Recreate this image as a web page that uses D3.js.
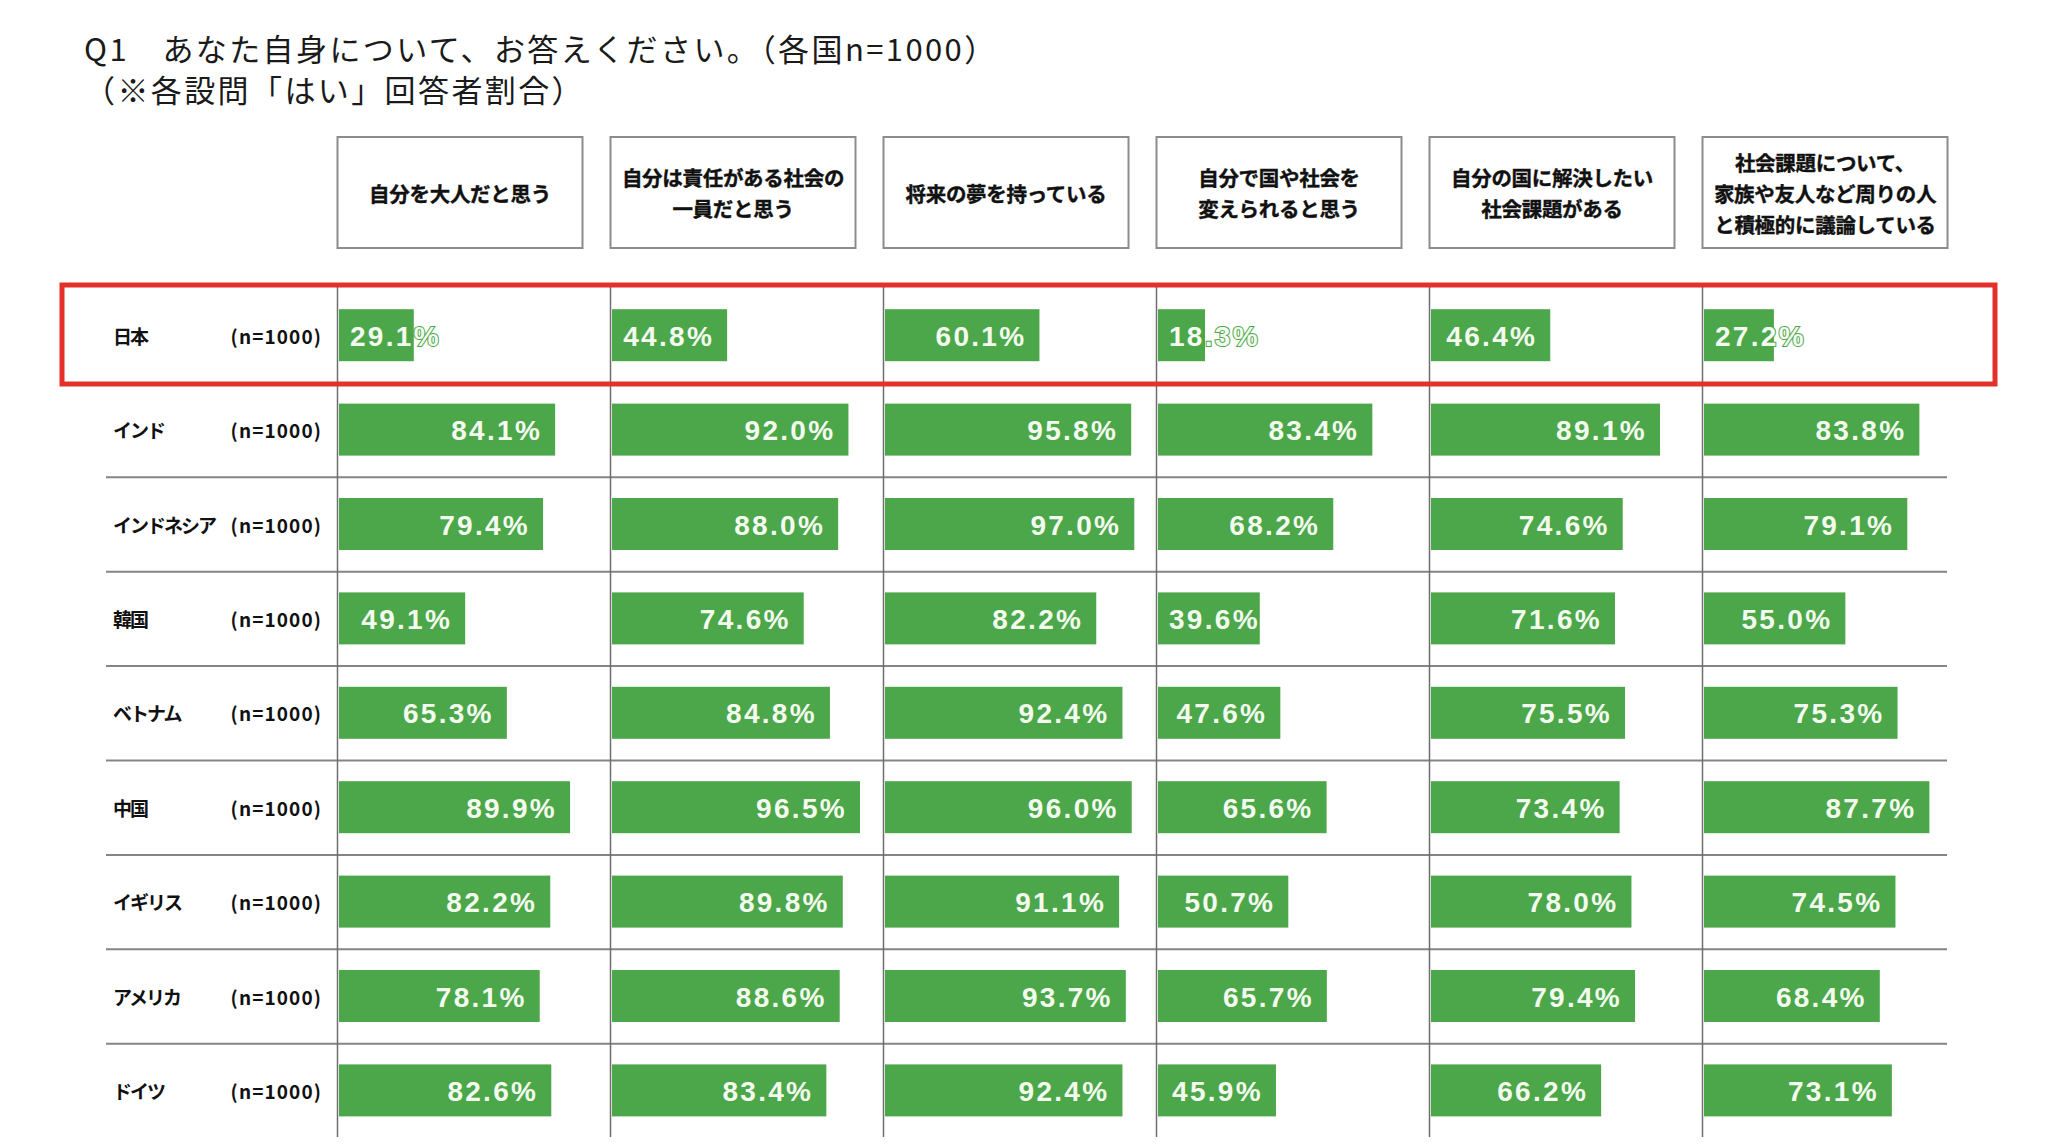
<!DOCTYPE html>
<html>
<head>
<meta charset="utf-8">
<script src="https://cdn.jsdelivr.net/npm/d3@7"></script>
<style>
  body { margin: 0; background: #fff; }
  svg { display: block; }
  .jp { font-family: "Noto Sans CJK JP", sans-serif; }
</style>
</head>
<body>
<script>
var countries = ['日本', 'インド', 'インドネシア', '韓国', 'ベトナム', '中国', 'イギリス', 'アメリカ', 'ドイツ'];
var sampleLabel = '(n=1000)';

var questions = [
  ['自分を大人だと思う'],
  ['自分は責任がある社会の', '一員だと思う'],
  ['将来の夢を持っている'],
  ['自分で国や社会を', '変えられると思う'],
  ['自分の国に解決したい', '社会課題がある'],
  ['社会課題について、', '家族や友人など周りの人', 'と積極的に議論している']
];

// "はい" share (%) per question, in country order
var adult       = [29.1, 84.1, 79.4, 49.1, 65.3, 89.9, 82.2, 78.1, 82.6];
var responsible = [44.8, 92.0, 88.0, 74.6, 84.8, 96.5, 89.8, 88.6, 83.4];
var dream       = [60.1, 95.8, 97.0, 82.2, 92.4, 96.0, 91.1, 93.7, 92.4];
var canChange   = [18.3, 83.4, 68.2, 39.6, 47.6, 65.6, 50.7, 65.7, 45.9];
var socialIssue = [46.4, 89.1, 74.6, 71.6, 75.5, 73.4, 78.0, 79.4, 66.2];
var discuss     = [27.2, 83.8, 79.1, 55.0, 75.3, 87.7, 74.5, 68.4, 73.1];

var series = [adult, responsible, dream, canChange, socialIssue, discuss];

var titleLines = ['Q1\u3000あなた自身について、お答えください。（各国n=1000）', '（※各設問「はい」回答者割合）'];

var W = 2048, H = 1144;
var green = '#4ca64a';

var svg = d3.select('body').append('svg')
    .attr('width', W)
    .attr('height', H);

var col = d3.scaleBand()
    .domain(d3.range(questions.length))
    .range([337.5, 1947.5])
    .paddingInner(28 / 273)
    .paddingOuter(0);

var row = d3.scaleBand()
    .domain(countries)
    .range([288, 288 + 94.4 * countries.length]);

var x = d3.scaleLinear().domain([0, 100]).range([0, 257]);

// title
svg.selectAll('.title')
    .data(titleLines)
    .enter().append('text')
    .attr('class', 'jp title')
    .attr('x', 84)
    .attr('y', function(d, i) { return 47 + i * 41; })
    .attr('dominant-baseline', 'central')
    .style('font-size', '31px')
    .style('letter-spacing', '2.4px')
    .attr('fill', '#1a1a1a')
    .text(function(d) { return d; });

// header boxes
var head = svg.selectAll('.head')
    .data(questions)
    .enter().append('g')
    .attr('class', 'head')
    .attr('transform', function(d, i) { return 'translate(' + col(i) + ',137)'; });

head.append('rect')
    .attr('width', col.bandwidth())
    .attr('height', 111)
    .attr('fill', '#fff')
    .attr('stroke', '#8c8c8c')
    .attr('stroke-width', 2);

head.each(function(lines) {
  var g = d3.select(this);
  var lh = 31;
  var y0 = 55.5 - (lines.length - 1) * lh / 2;
  g.selectAll('text')
    .data(lines)
    .enter().append('text')
    .attr('class', 'jp')
    .attr('x', col.bandwidth() / 2)
    .attr('y', function(d, i) { return y0 + i * lh; })
    .attr('text-anchor', 'middle')
    .attr('dominant-baseline', 'central')
    .style('font-size', '20.5px')
    .style('font-weight', 700)
    .style('letter-spacing', '-0.3px')
    .attr('fill', '#111')
    .attr('stroke', '#111')
    .attr('stroke-width', 0.4)
    .text(function(d) { return d; });
});

// row separators
svg.selectAll('.sep')
    .data(countries.slice(1, -1))
    .enter().append('line')
    .attr('x1', 106).attr('x2', 1947)
    .attr('y1', function(d) { return row(d) + row.bandwidth() + 0.5; })
    .attr('y2', function(d) { return row(d) + row.bandwidth() + 0.5; })
    .attr('stroke', '#858585')
    .attr('stroke-width', 2);

// column lines
svg.selectAll('.vline')
    .data(questions)
    .enter().append('line')
    .attr('x1', function(d, i) { return col(i); })
    .attr('x2', function(d, i) { return col(i); })
    .attr('y1', 285).attr('y2', 1137)
    .attr('stroke', '#6e6e6e')
    .attr('stroke-width', 1.5);

// row labels
var rl = svg.selectAll('.rlab')
    .data(countries)
    .enter().append('g')
    .attr('transform', function(d) { return 'translate(0,' + (row(d) + row.bandwidth() / 2) + ')'; });

rl.append('text')
    .attr('class', 'jp')
    .attr('x', 113)
    .attr('dominant-baseline', 'central')
    .style('font-size', '19px')
    .style('font-weight', 700)
    .style('letter-spacing', '-2px')
    .attr('fill', '#111')
    .text(function(d) { return d; });

rl.append('text')
    .attr('class', 'jp')
    .attr('x', 322)
    .attr('text-anchor', 'end')
    .attr('dominant-baseline', 'central')
    .style('font-size', '19px')
    .style('font-weight', 700)
    .style('letter-spacing', '1.1px')
    .attr('fill', '#111')
    .text(sampleLabel);

// bars and values
var cells = [];
series.forEach(function(vals, qi) {
  vals.forEach(function(v, ci) {
    cells.push({q: qi, country: countries[ci], value: v});
  });
});

var cell = svg.selectAll('.cell')
    .data(cells)
    .enter().append('g')
    .attr('class', 'cell')
    .attr('transform', function(d) {
      return 'translate(' + (col(d.q) + 1.5) + ',' + (row(d.country) + row.bandwidth() / 2) + ')';
    });

cell.append('rect')
    .attr('x', 0)
    .attr('y', -26)
    .attr('width', function(d) { return x(d.value); })
    .attr('height', 52)
    .attr('fill', green);

cell.append('text')
    .attr('dominant-baseline', 'central')
    .attr('text-anchor', 'start')
    .style('font-family', '"Liberation Sans", Arial, sans-serif')
    .style('font-size', '28px')
    .style('font-weight', 700)
    .style('letter-spacing', '2.3px')
    .style('paint-order', 'stroke')
    .attr('fill', '#f3fbef')
    .attr('stroke', green)
    .attr('stroke-width', 2)
    .attr('y', 1)
    .text(function(d) { return d.value.toFixed(1) + '%'; })
    .attr('x', function(d) {
      var tw = this.getComputedTextLength();
      return Math.max(x(d.value) - 13 - tw, 11);
    });

// highlight frame on Japan row
svg.append('rect')
    .attr('x', 62)
    .attr('y', 285)
    .attr('width', 1995 - 62)
    .attr('height', 99)
    .attr('fill', 'none')
    .attr('stroke', '#e3302a')
    .attr('stroke-width', 5);
</script>
</body>
</html>
